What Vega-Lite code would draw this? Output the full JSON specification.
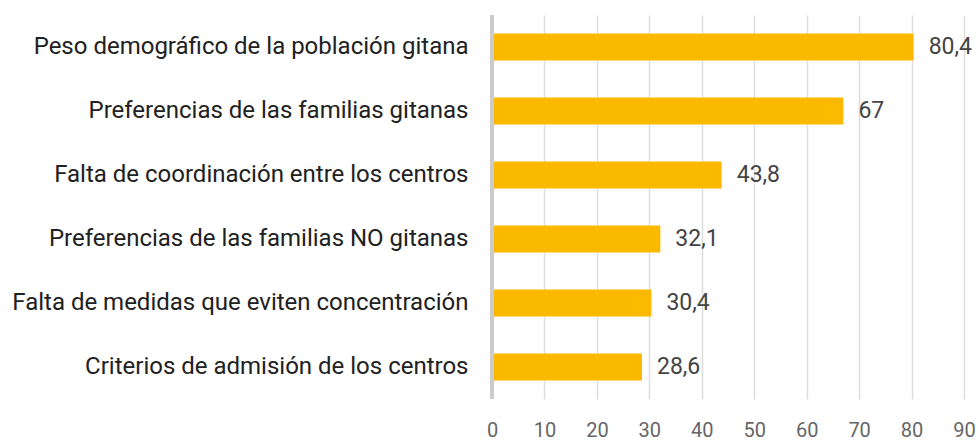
{
  "$schema": "https://vega.github.io/schema/vega-lite/v6.json",
  "width": 472,
  "height": 384,
  "autosize": {"type": "none"},
  "padding": {"left": 492, "top": 15, "right": 14, "bottom": 42},
  "background": "white",
  "config": {
    "font": "Roboto",
    "view": {"stroke": null},
    "locale": {"number": {"decimal": ",", "thousands": ".", "grouping": [3], "currency": ["", " €"]}}
  },
  "data": {
    "values": [
      {"motivo": "Peso demográfico de la población gitana", "pct": 80.4},
      {"motivo": "Preferencias de las familias gitanas", "pct": 67},
      {"motivo": "Falta de coordinación entre los centros", "pct": 43.8},
      {"motivo": "Preferencias de las familias NO gitanas", "pct": 32.1},
      {"motivo": "Falta de medidas que eviten concentración", "pct": 30.4},
      {"motivo": "Criterios de admisión de los centros", "pct": 28.6}
    ]
  },
  "encoding": {
    "y": {
      "field": "motivo",
      "type": "nominal",
      "sort": null,
      "scale": {"paddingInner": 0.58, "paddingOuter": 0.29},
      "axis": {
        "title": null,
        "domain": false,
        "ticks": false,
        "labelPadding": 24,
        "labelFontSize": 24,
        "labelColor": "#212121",
        "labelLimit": 600
      }
    },
    "x": {
      "field": "pct",
      "type": "quantitative",
      "scale": {"domain": [0, 90], "nice": false},
      "axis": {
        "title": null,
        "values": [0, 10, 20, 30, 40, 50, 60, 70, 80, 90],
        "domain": false,
        "ticks": false,
        "grid": true,
        "gridColor": "#dddddd",
        "gridWidth": 1.5,
        "labelPadding": 21,
        "labelFontSize": 20,
        "labelColor": "#666666",
        "labelFlush": false
      }
    }
  },
  "layer": [
    {
      "mark": {"type": "bar", "color": "#FBBA00"}
    },
    {
      "mark": {"type": "rule", "color": "#cccccc", "strokeWidth": 3},
      "encoding": {"x": {"datum": 0}, "y": null}
    },
    {
      "mark": {"type": "text", "align": "left", "baseline": "middle", "dx": 15, "fontSize": 23, "color": "#444444"},
      "encoding": {"text": {"field": "pct", "type": "quantitative", "format": ".1~f"}}
    }
  ]
}
